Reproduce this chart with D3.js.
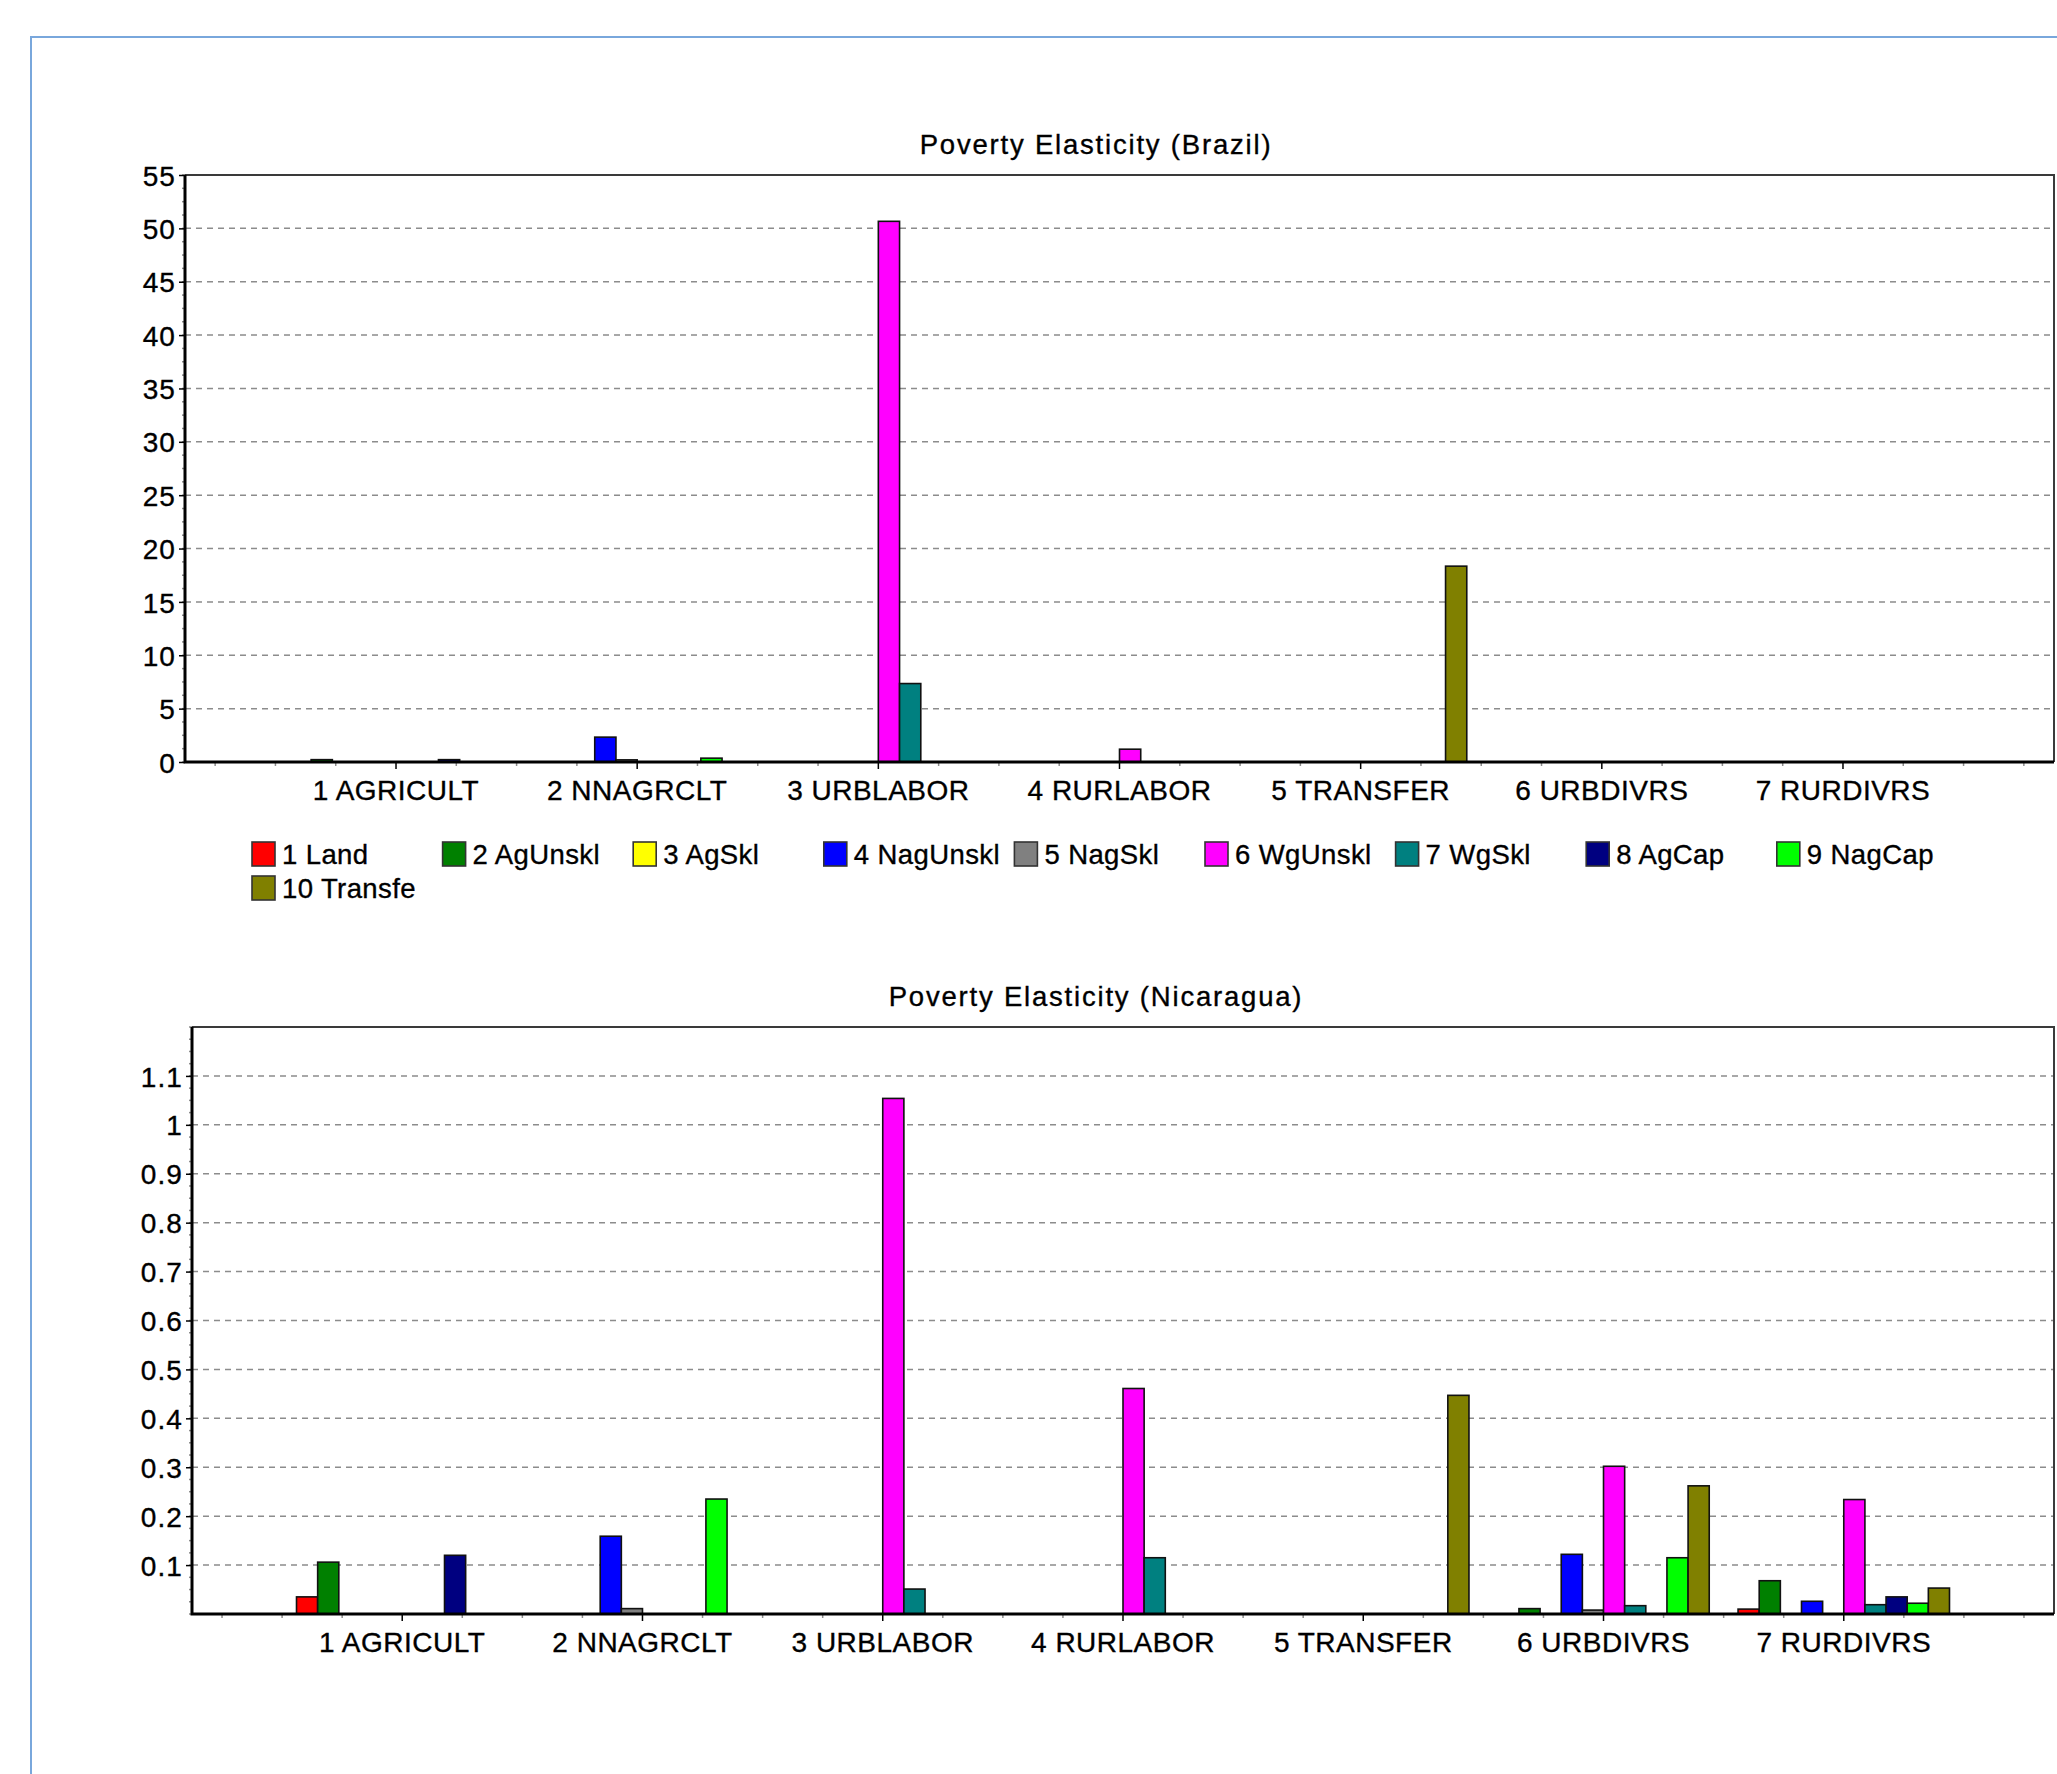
<!DOCTYPE html>
<html>
<head>
<meta charset="utf-8">
<script src="https://cdn.jsdelivr.net/npm/d3@7"></script>
<style>
  html, body { margin: 0; padding: 0; background: #fff; }
  svg { display: block; }
  text { font-family: "Liberation Sans", Arial, sans-serif; fill: #000; stroke: #000; stroke-width: 0.35px; }
</style>
</head>
<body>
<svg id="chart" width="2057" height="1774"></svg>
<script>
// Sectors on the x axis
const sectors = ["1 AGRICULT", "2 NNAGRCLT", "3 URBLABOR", "4 RURLABOR", "5 TRANSFER", "6 URBDIVRS", "7 RURDIVRS"];
// Factor series (one bar per factor inside each sector group)
const factors = ["1 Land", "2 AgUnskl", "3 AgSkl", "4 NagUnskl", "5 NagSkl", "6 WgUnskl", "7 WgSkl", "8 AgCap", "9 NagCap", "10 Transfe"];
const factorColors = ["#ff0000", "#008000", "#ffff00", "#0000ff", "#808080", "#ff00ff", "#008080", "#000080", "#00ff00", "#808000"];

// Brazil: one row per sector, one value per factor
const brazilValues = [
  [0, 0.22, 0, 0, 0, 0, 0, 0.22, 0, 0],
  [0, 0, 0, 2.33, 0.2, 0, 0, 0, 0.36, 0],
  [0, 0, 0, 0, 0, 50.66, 7.35, 0, 0, 0],
  [0, 0, 0, 0, 0, 1.2, 0, 0, 0, 0],
  [0, 0, 0, 0, 0, 0, 0, 0, 0, 18.35],
  [0, 0, 0, 0, 0, 0, 0, 0, 0, 0],
  [0, 0, 0, 0, 0, 0, 0, 0, 0, 0]
];
const brazilTicks = [0, 5, 10, 15, 20, 25, 30, 35, 40, 45, 50, 55];
const brazilMax = 55;

// Nicaragua: one row per sector, one value per factor
const nicaraguaValues = [
  [0.035, 0.106, 0, 0, 0, 0, 0, 0.12, 0, 0],
  [0, 0, 0, 0.159, 0.011, 0, 0, 0, 0.235, 0],
  [0, 0, 0, 0, 0, 1.054, 0.051, 0, 0, 0],
  [0, 0, 0, 0, 0, 0.461, 0.115, 0, 0, 0],
  [0, 0, 0, 0, 0, 0, 0, 0, 0, 0.447],
  [0, 0.011, 0, 0.122, 0.008, 0.302, 0.017, 0, 0.115, 0.262],
  [0.010, 0.068, 0, 0.026, 0, 0.234, 0.019, 0.035, 0.022, 0.053]
];
const nicaraguaTicks = [0.1, 0.2, 0.3, 0.4, 0.5, 0.6, 0.7, 0.8, 0.9, 1, 1.1];
const nicaraguaMax = 1.2;

const svg = d3.select("#chart");

// light blue frame of the surrounding panel
svg.append("path")
  .attr("d", "M31,1774 V37 H2057")
  .attr("fill", "none")
  .attr("stroke", "#79a7dc")
  .attr("stroke-width", 2);

function drawPanel(cfg) {
  const g = svg.append("g");
  const { left, right, top, bottom } = cfg;

  const x = d3.scaleBand()
    .domain(sectors)
    .range([left, right])
    .paddingInner(0.12)
    .paddingOuter(0.435);
  const xs = d3.scaleBand()
    .domain(d3.range(factors.length))
    .range([0, x.bandwidth()]);
  const y = d3.scaleLinear().domain([0, cfg.max]).range([bottom, top]);

  // title
  g.append("text")
    .attr("x", cfg.titleX)
    .attr("y", cfg.titleY)
    .attr("text-anchor", "middle")
    .style("font-size", "27.5px")
    .style("letter-spacing", "1.8px")
    .text(cfg.title);

  // dashed grid lines
  g.append("g").selectAll("line")
    .data(cfg.ticks.filter(v => v > 0 && v < cfg.max))
    .join("line")
    .attr("x1", left).attr("x2", right)
    .attr("y1", d => y(d)).attr("y2", d => y(d))
    .attr("stroke", "#8c8c8c")
    .attr("stroke-width", 1.5)
    .attr("stroke-dasharray", "6,5");

  // minor y ticks (four per major step)
  const majorStep = cfg.ticks[1] - cfg.ticks[0];
  const minorY = d3.range(0, Math.round(cfg.max / (majorStep / 4)) + 1).map(i => i * majorStep / 4);
  g.append("g").selectAll("line")
    .data(minorY)
    .join("line")
    .attr("x1", left - 3).attr("x2", left)
    .attr("y1", d => y(d)).attr("y2", d => y(d))
    .attr("stroke", "#8c8c8c")
    .attr("stroke-width", 1.5);

  // y axis
  const yAxis = g.append("g")
    .attr("transform", `translate(${left},0)`)
    .call(d3.axisLeft(y).tickValues(cfg.ticks).tickSize(6).tickPadding(3)
      .tickFormat(d3.format("~g")));
  yAxis.select(".domain").remove();
  yAxis.selectAll(".tick line").attr("stroke", "#000").attr("stroke-width", 1.5);
  yAxis.selectAll(".tick text")
    .style("font-size", "28px")
    .style("letter-spacing", "1.1px")
    .attr("dy", "0.36em");

  // x ticks: major at each sector centre, minor every quarter step
  const step = x.step();
  const c0 = x(sectors[0]) + x.bandwidth() / 2;
  const quarterTicks = d3.range(-4, sectors.length * 4 + 4)
    .map(k => ({ k, pos: c0 + k * step / 4 }))
    .filter(t => t.pos > left + 1 && t.pos < right - 1);
  g.append("g").selectAll("line")
    .data(quarterTicks)
    .join("line")
    .attr("x1", d => d.pos).attr("x2", d => d.pos)
    .attr("y1", bottom)
    .attr("y2", d => bottom + (d.k % 4 === 0 ? 7 : 4))
    .attr("stroke", d => d.k % 4 === 0 ? "#000" : "#8c8c8c")
    .attr("stroke-width", 1.5);

  // x labels
  g.append("g").selectAll("text")
    .data(sectors)
    .join("text")
    .attr("x", d => x(d) + x.bandwidth() / 2)
    .attr("y", cfg.labelY)
    .attr("text-anchor", "middle")
    .style("font-size", "28px")
    .style("letter-spacing", "0.5px")
    .text(d => d);

  // bars
  const barData = [];
  cfg.values.forEach((row, si) => {
    row.forEach((v, fi) => {
      if (v > 0) barData.push({ sector: sectors[si], fi, v });
    });
  });
  g.append("g").selectAll("rect")
    .data(barData)
    .join("rect")
    .attr("x", d => x(d.sector) + xs(d.fi))
    .attr("width", xs.bandwidth())
    .attr("y", d => y(d.v))
    .attr("height", d => y(0) - y(d.v))
    .attr("fill", d => factorColors[d.fi])
    .attr("stroke", "#111")
    .attr("stroke-width", 1.6);

  // plot border: top and right thin, axes thick
  g.append("path")
    .attr("d", `M${left},${top} H${right} V${bottom}`)
    .attr("fill", "none")
    .attr("stroke", "#3a3a3a")
    .attr("stroke-width", 2);
  g.append("path")
    .attr("d", `M${left},${top} V${bottom} H${right}`)
    .attr("fill", "none")
    .attr("stroke", "#000")
    .attr("stroke-width", 3);
}

drawPanel({
  title: "Poverty Elasticity (Brazil)",
  titleX: 1096, titleY: 154,
  left: 185, right: 2054, top: 175, bottom: 762,
  labelY: 800,
  max: brazilMax, ticks: brazilTicks, values: brazilValues
});

drawPanel({
  title: "Poverty Elasticity (Nicaragua)",
  titleX: 1096, titleY: 1006,
  left: 192, right: 2054, top: 1027, bottom: 1614,
  labelY: 1652,
  max: nicaraguaMax, ticks: nicaraguaTicks, values: nicaraguaValues
});

// legend for the factor series
const legend = svg.append("g");
const legendItems = factors.map((name, i) => ({
  name, color: factorColors[i],
  col: i < 9 ? i : 0,
  row: i < 9 ? 0 : 1
}));
const lx = d3.scaleLinear().domain([0, 1]).range([252, 252 + 190.6]);
const ly = d3.scaleLinear().domain([0, 1]).range([842, 876]);
const item = legend.selectAll("g")
  .data(legendItems)
  .join("g")
  .attr("transform", d => `translate(${lx(d.col)},${ly(d.row)})`);
item.append("rect")
  .attr("width", 23).attr("height", 24)
  .attr("fill", d => d.color)
  .attr("stroke", "#333")
  .attr("stroke-width", 1.6);
item.append("text")
  .attr("x", 30).attr("y", 22)
  .style("font-size", "27.5px")
  .style("letter-spacing", "0.4px")
  .text(d => d.name);
</script>
</body>
</html>
